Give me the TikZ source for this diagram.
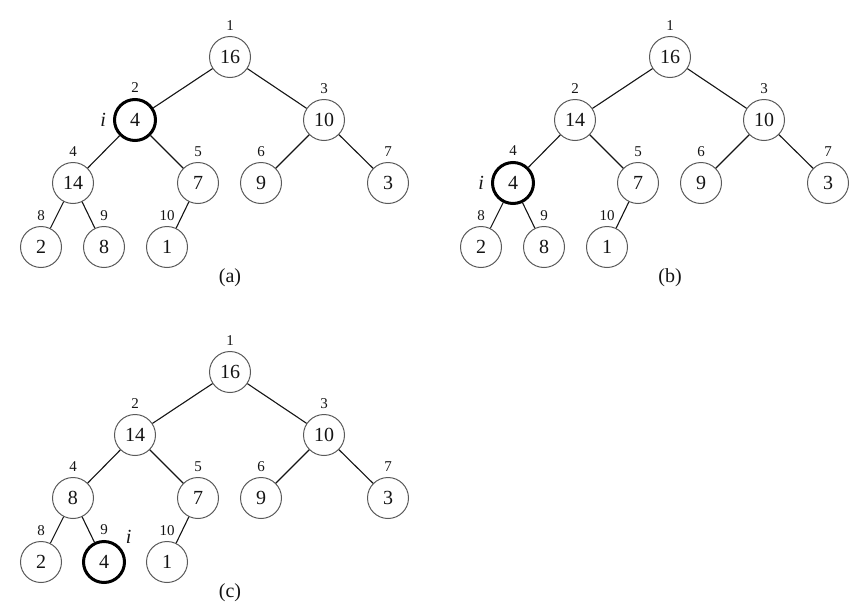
\documentclass[tikz,border=0pt]{standalone}
\usepackage{fontspec}
\setmainfont{Liberation Serif}
\usepackage{xcolor}
\definecolor{ring}{RGB}{90,90,90}
\definecolor{ink}{RGB}{20,20,20}

\begin{document}
\begin{tikzpicture}[
    x=0.5pt, y=-0.5pt,
    key/.style={circle, draw=ring, line width=0.5pt, minimum size=20.5pt, inner sep=0pt, text=ink, font=\fontsize{10}{12}\selectfont},
    hot/.style={key, draw=black, line width=1.5pt},
    idx/.style={inner sep=2.5pt, text=ink, font=\fontsize{7.5}{9}\selectfont},
    ilab/.style={text=ink, font=\fontsize{10}{12}\selectfont\itshape},
    caption/.style={text=ink, font=\fontsize{10}{12}\selectfont},
    edge/.style={line width=0.55pt, ink},
]
\useasboundingbox (0,0) rectangle (863,611);

% (a) i = 2
\node[key, label={[idx]above:1}] (a1) at (230,57) {16};
\node[hot, label={[idx]above:2}, label={[ilab]left:i}] (a2) at (135,120) {4};
\node[key, label={[idx]above:3}] (a3) at (324,120) {10};
\node[key, label={[idx]above:4}] (a4) at (73,183) {14};
\node[key, label={[idx]above:5}] (a5) at (198,183) {7};
\node[key, label={[idx]above:6}] (a6) at (261,183) {9};
\node[key, label={[idx]above:7}] (a7) at (388,183) {3};
\node[key, label={[idx]above:8}] (a8) at (41,247) {2};
\node[key, label={[idx]above:9}] (a9) at (104,247) {8};
\node[key, label={[idx]above:10}] (a10) at (167,247) {1};
\node[caption] (capa) at (230,278) {(a)};

\draw[edge] (a1) -- (a2);
\draw[edge] (a1) -- (a3);
\draw[edge] (a2) -- (a4);
\draw[edge] (a2) -- (a5);
\draw[edge] (a3) -- (a6);
\draw[edge] (a3) -- (a7);
\draw[edge] (a4) -- (a8);
\draw[edge] (a4) -- (a9);
\draw[edge] (a5) -- (a10);

% (b) i = 4
\begin{scope}[shift={(440,0)}]
\node[key, label={[idx]above:1}] (b1) at (230,57) {16};
\node[key, label={[idx]above:2}] (b2) at (135,120) {14};
\node[key, label={[idx]above:3}] (b3) at (324,120) {10};
\node[hot, label={[idx]above:4}, label={[ilab]left:i}] (b4) at (73,183) {4};
\node[key, label={[idx]above:5}] (b5) at (198,183) {7};
\node[key, label={[idx]above:6}] (b6) at (261,183) {9};
\node[key, label={[idx]above:7}] (b7) at (388,183) {3};
\node[key, label={[idx]above:8}] (b8) at (41,247) {2};
\node[key, label={[idx]above:9}] (b9) at (104,247) {8};
\node[key, label={[idx]above:10}] (b10) at (167,247) {1};
\node[caption] (capb) at (230,278) {(b)};
\end{scope}

\draw[edge] (b1) -- (b2);
\draw[edge] (b1) -- (b3);
\draw[edge] (b2) -- (b4);
\draw[edge] (b2) -- (b5);
\draw[edge] (b3) -- (b6);
\draw[edge] (b3) -- (b7);
\draw[edge] (b4) -- (b8);
\draw[edge] (b4) -- (b9);
\draw[edge] (b5) -- (b10);

% (c) i = 9
\begin{scope}[shift={(0,315)}]
\node[key, label={[idx]above:1}] (c1) at (230,57) {16};
\node[key, label={[idx]above:2}] (c2) at (135,120) {14};
\node[key, label={[idx]above:3}] (c3) at (324,120) {10};
\node[key, label={[idx]above:4}] (c4) at (73,183) {8};
\node[key, label={[idx]above:5}] (c5) at (198,183) {7};
\node[key, label={[idx]above:6}] (c6) at (261,183) {9};
\node[key, label={[idx]above:7}] (c7) at (388,183) {3};
\node[key, label={[idx]above:8}] (c8) at (41,247) {2};
\node[hot, label={[idx]above:9}, label={[ilab, inner sep=1.5pt, xshift=1.5pt]above right:i}] (c9) at (104,247) {4};
\node[key, label={[idx]above:10}] (c10) at (167,247) {1};
\node[caption] (capc) at (230,278) {(c)};
\end{scope}

\draw[edge] (c1) -- (c2);
\draw[edge] (c1) -- (c3);
\draw[edge] (c2) -- (c4);
\draw[edge] (c2) -- (c5);
\draw[edge] (c3) -- (c6);
\draw[edge] (c3) -- (c7);
\draw[edge] (c4) -- (c8);
\draw[edge] (c4) -- (c9);
\draw[edge] (c5) -- (c10);

\end{tikzpicture}
\end{document}
